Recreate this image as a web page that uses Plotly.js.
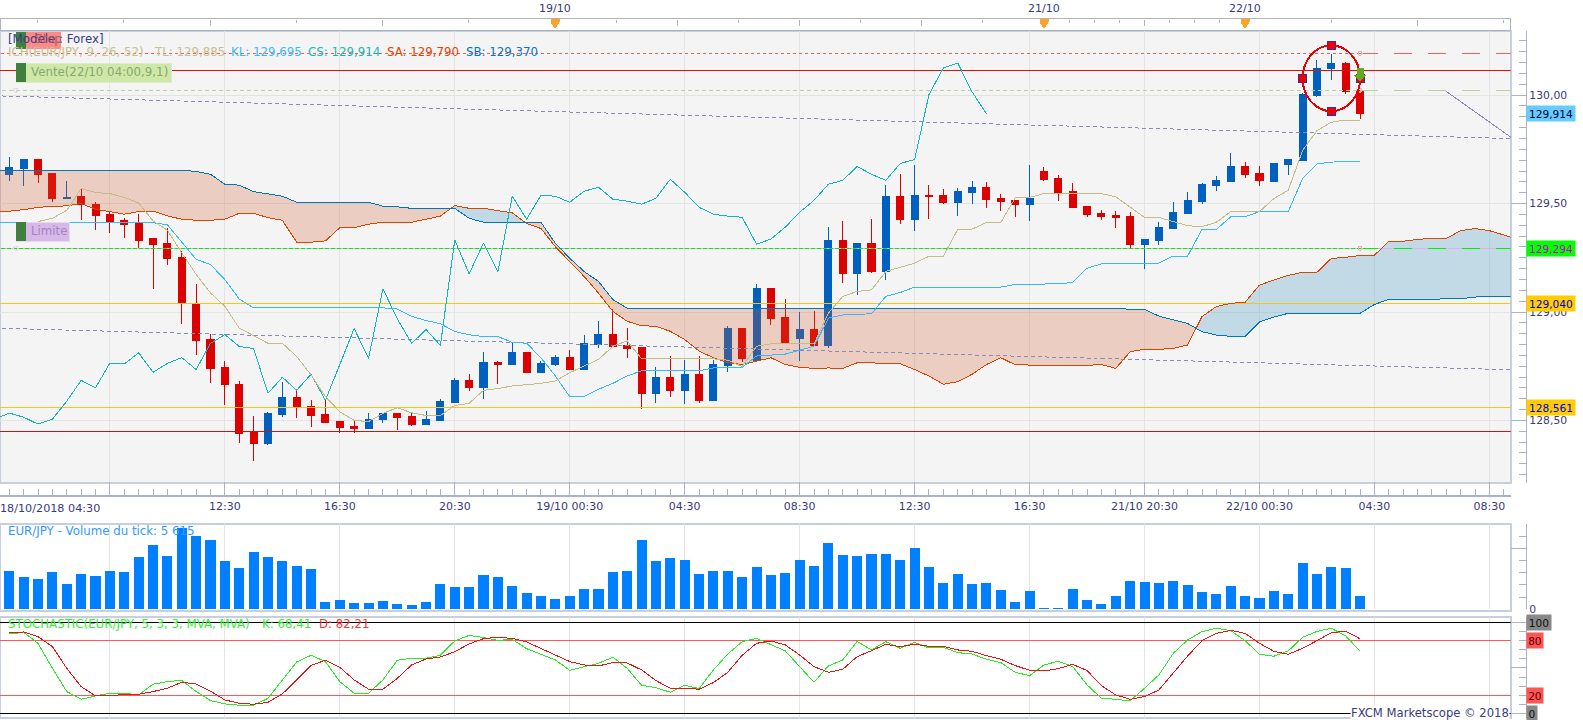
<!DOCTYPE html>
<html>
<head>
<meta charset="utf-8">
<script src="https://cdn.plot.ly/plotly-3.0.1.min.js"></script>
<style>
body{margin:0;background:#fff}
/* the original chart has no antialiasing on its lines */
#chart svg path{shape-rendering:crispEdges}
</style>
</head>
<body>
<div id="chart"></div>
<script>
// EUR/JPY 30 min, bars are numbered 0..94, x axis is the bar number (weekend gap is closed)
const opens = [129.634,129.662,129.702,129.637,129.522,129.531,129.498,129.448,129.42,129.406,129.337,129.314,129.252,129.039,128.872,128.742,128.668,128.448,128.395,128.529,128.608,128.566,128.529,128.497,128.474,128.465,128.506,128.534,128.52,128.483,128.5,128.583,128.685,128.65,128.765,128.76,128.813,128.722,128.758,128.79,128.735,128.85,128.896,128.846,128.836,128.625,128.699,128.639,128.713,128.593,128.754,128.924,128.777,129.107,128.974,128.878,128.919,128.846,129.332,129.176,129.318,129.185,129.534,129.428,129.538,129.538,129.506,129.552,129.575,129.524,129.515,129.497,129.648,129.616,129.557,129.488,129.456,129.446,129.442,129.313,129.332,129.387,129.456,129.511,129.584,129.602,129.671,129.639,129.602,129.68,129.699,129.997,130.121,130.148,130.02];
const highs = [129.715,129.702,129.706,129.642,129.605,129.569,129.505,129.463,129.432,129.451,129.337,129.386,129.282,129.131,128.9,128.775,128.682,128.52,128.539,128.677,128.64,128.594,128.594,128.497,128.503,128.534,128.534,128.534,128.534,128.543,128.599,128.694,128.715,128.816,128.775,128.858,128.813,128.772,128.8,128.823,128.896,128.96,129.015,128.928,128.836,128.745,128.795,128.777,128.795,128.781,128.937,128.928,129.13,129.107,129.061,129.002,129.006,129.391,129.419,129.318,129.428,129.584,129.635,129.676,129.584,129.566,129.57,129.602,129.598,129.543,129.515,129.676,129.667,129.63,129.593,129.488,129.469,129.465,129.46,129.336,129.414,129.506,129.552,129.593,129.625,129.731,129.69,129.671,129.685,129.703,130.01,130.162,130.19,130.153,130.02];
const lows = [129.605,129.583,129.597,129.509,129.522,129.425,129.378,129.365,129.342,129.291,129.108,129.215,128.946,128.802,128.674,128.571,128.395,128.312,128.386,128.515,128.511,128.469,128.488,128.441,128.441,128.46,128.488,128.458,128.474,128.478,128.5,128.58,128.636,128.599,128.668,128.76,128.717,128.717,128.749,128.735,128.735,128.832,128.841,128.786,128.552,128.58,128.607,128.575,128.58,128.593,128.722,128.768,128.777,128.942,128.855,128.772,128.846,128.836,129.135,129.08,129.18,129.148,129.405,129.373,129.428,129.497,129.442,129.497,129.479,129.465,129.437,129.419,129.602,129.511,129.479,129.437,129.424,129.387,129.295,129.199,129.309,129.387,129.456,129.497,129.557,129.602,129.616,129.58,129.598,129.63,129.694,129.992,130.07,130.006,129.891];
const closes = [129.665,129.702,129.634,129.522,129.529,129.495,129.443,129.414,129.402,129.332,129.309,129.247,129.043,128.869,128.739,128.664,128.441,128.395,128.534,128.608,128.56,128.525,128.492,128.469,128.465,128.506,128.534,128.515,128.483,128.506,128.589,128.685,128.65,128.765,128.76,128.812,128.722,128.763,128.79,128.735,128.855,128.896,128.841,128.832,128.625,128.699,128.639,128.713,128.593,128.758,128.924,128.786,129.107,128.969,128.855,128.919,128.846,129.332,129.176,129.318,129.185,129.534,129.428,129.538,129.534,129.506,129.557,129.575,129.52,129.511,129.497,129.524,129.612,129.552,129.483,129.451,129.442,129.437,129.313,129.336,129.391,129.46,129.515,129.589,129.607,129.671,129.635,129.607,129.685,129.703,130.002,130.125,130.148,130.015,129.914];

// these series start one bar before the left edge (bar -1)
const tenkan = [null,null,null,129.417,129.432,129.469,129.569,129.551,129.546,129.529,129.503,129.42,129.377,129.273,129.173,129.088,129.026,128.926,128.89,128.856,128.856,128.795,128.71,128.61,128.54,128.5,128.495,128.532,128.559,128.535,128.523,128.523,128.569,128.579,128.639,128.647,128.659,128.664,128.671,128.682,128.72,128.751,128.781,128.842,128.867,128.784,128.784,128.784,128.784,128.784,128.784,128.778,128.748,128.842,128.853,128.853,128.853,128.853,128.995,129.072,129.095,129.102,129.187,129.206,129.225,129.257,129.257,129.381,129.382,129.413,129.413,129.526,129.528,129.546,129.546,129.546,129.546,129.546,129.531,129.485,129.436,129.436,129.416,129.398,129.393,129.414,129.463,129.463,129.463,129.523,129.561,129.745,129.836,129.875,129.885,129.885];
const kijun = [129.412,129.412,129.412,129.412,129.412,129.412,129.412,129.412,129.412,129.412,129.412,129.412,129.402,129.32,129.243,129.219,129.15,129.06,129.019,129.019,129.019,129.019,129.019,129.019,129.019,129.019,129.019,129.019,129.014,128.98,128.961,128.946,128.91,128.895,128.887,128.887,128.86,128.856,128.789,128.705,128.61,128.61,128.644,128.671,128.705,128.729,128.729,128.729,128.729,128.729,128.742,128.745,128.745,128.797,128.803,128.806,128.824,128.842,128.972,128.986,128.989,128.992,129.072,129.09,129.115,129.115,129.115,129.115,129.115,129.115,129.115,129.127,129.128,129.128,129.13,129.136,129.202,129.222,129.225,129.225,129.225,129.225,129.258,129.258,129.381,129.381,129.439,129.439,129.463,129.463,129.463,129.615,129.683,129.691,129.695,129.695];
const chikou = [128.506,128.534,128.515,128.483,128.506,128.589,128.685,128.65,128.765,128.76,128.812,128.722,128.763,128.79,128.735,128.855,128.896,128.841,128.832,128.625,128.699,128.639,128.713,128.593,128.758,128.924,128.786,129.107,128.969,128.855,128.919,128.846,129.332,129.176,129.318,129.185,129.534,129.428,129.538,129.534,129.506,129.557,129.575,129.52,129.511,129.497,129.524,129.612,129.552,129.483,129.451,129.442,129.437,129.313,129.336,129.391,129.46,129.515,129.589,129.607,129.671,129.635,129.607,129.685,129.703,130.002,130.125,130.148,130.015,129.914];
const senkouA = [129.462,129.465,129.472,129.482,129.488,129.489,129.5,129.474,129.463,129.451,129.463,129.465,129.443,129.428,129.423,129.423,129.428,129.455,129.455,129.435,129.423,129.322,129.322,129.328,129.389,129.389,129.405,129.414,129.414,129.414,129.428,129.442,129.491,129.478,129.478,129.469,129.457,129.408,129.385,129.301,129.232,129.164,129.087,129.003,128.957,128.937,128.934,128.911,128.873,128.82,128.789,128.766,128.758,128.774,128.789,128.758,128.745,128.74,128.742,128.74,128.766,128.766,128.761,128.761,128.735,128.705,128.667,128.679,128.713,128.758,128.789,128.757,128.754,128.754,128.754,128.754,128.754,128.758,128.74,128.817,128.828,128.828,128.832,128.848,128.979,129.025,129.04,129.045,129.124,129.147,129.169,129.183,129.183,129.247,129.252,129.261,129.262,129.326,129.326,129.335,129.339,129.339,129.375,129.385,129.375,129.355,129.335];
const senkouB = [129.654,129.654,129.654,129.654,129.654,129.654,129.654,129.654,129.654,129.654,129.654,129.654,129.654,129.654,129.648,129.635,129.589,129.585,129.555,129.546,129.534,129.506,129.506,129.506,129.506,129.506,129.506,129.488,129.485,129.478,129.478,129.478,129.478,129.432,129.414,129.414,129.414,129.413,129.413,129.317,129.248,129.187,129.141,129.057,129.018,129.018,129.018,129.018,129.018,129.018,129.018,129.018,129.018,129.018,129.018,129.018,129.018,129.018,129.018,129.018,129.018,129.018,129.018,129.018,129.018,129.018,129.018,129.018,129.018,129.018,129.018,129.018,129.018,129.018,129.018,129.018,129.018,129.018,129.018,129.012,129.012,128.981,128.963,128.947,128.909,128.894,128.888,128.888,128.954,128.977,128.994,128.994,128.994,128.994,128.994,128.994,129.035,129.058,129.058,129.058,129.058,129.058,129.061,129.069,129.072,129.072,129.072];

const volumes = [15755,13289,12467,15344,10412,14522,13700,15755,15344,21509,26441,21920,33428,30140,28496,19865,16988,23564,21509,19865,17810,16577,3014,3836,2603,2603,3425,2192,1781,3014,10412,9179,9179,14111,13289,9590,6713,5480,4247,5480,8357,8357,15344,15755,28496,19865,21098,20276,14522,15755,15755,13289,17399,14111,14933,20276,17810,27263,22331,21920,22742,22742,20276,25208,17399,10823,14522,10412,10823,7946,3014,7535,548,411,8357,3836,2192,5480,11645,11234,10823,11645,10001,7124,6302,9590,5480,4658,7535,6302,19043,14522,17399,16988,5615];

const stochK = [87.5,89.3,77.2,49.6,23.9,15.4,19.1,22.1,22.1,20.2,32,34.9,36.4,23.9,14,10.3,8.8,8.8,16.5,36.8,56.6,64,57,34.9,22.1,22.1,36.8,58.5,60.7,60.7,64,79.8,86,83.5,80.5,81.6,71.3,65.1,58.8,47.4,51.5,55.1,61.8,49.6,30.9,28.3,23.2,30.9,27.2,47.8,65.4,79,82.7,75.4,68.8,51.5,34.2,52.2,58.8,79.4,69.9,79,71.7,78.3,72.1,72.8,66.9,65.4,59.6,55.9,45.2,41.5,53.3,57.4,51.5,31.3,16.5,15.4,13.6,27.6,42.3,66.2,80.9,90.1,93.8,91.2,80.1,65.1,62.9,68.8,83.8,90.4,93.8,85.3,68.41];
const stochD = [89,89.7,84.6,73.5,49.6,29.4,19.1,19.1,21,21,23.9,27.6,34.2,32.4,24.3,14.7,11,9.9,12.1,21.3,36.8,52.9,58.5,50.7,36.8,26.5,26.5,38.6,53.3,59.9,62.1,68,76.5,82.4,83.8,82.7,78.7,71.7,64.3,57,53.3,52.2,55.9,55.5,47.8,36,27.6,27.6,26.5,33.8,45.2,64,77.2,79.8,75.4,64.3,51.5,45.2,48.5,62.5,69.1,76.1,73.5,76.1,73.9,73.9,69.9,68.4,63.6,59.6,52.6,47.4,46.7,49.3,54,47.1,30.5,20.2,15.4,18.4,25.7,44.1,63.2,80.1,88.2,91.5,88.2,77.2,68.4,65.1,71.7,80.1,89,90.4,82.21];

const axisTickBars = [7,15,23,31,39,47,55,63,71,79,87,95,103];
const axisTickLabels = ["","12:30","16:30","20:30","19/10 00:30","04:30","08:30","12:30","16:30","21/10 20:30","22/10 00:30","04:30","08:30"];

const stopPrice = 130.193, sellPrice = 130.115, ventePrice = 130.023, limitPrice = 129.294;
const goldHigh = 129.04, goldLow = 128.561, redLow = 128.45;
const orderBar = 94;
const handleBars = [90,92,92,94], handlePrices = [130.077,130.229,129.926,130.077];

// top time strip, positions on the strip in px
const topLong = [210,382,677,799,921,1044,1144,1245,1417];
const topShort = [37,123,296,468,555,616,738,860,982,1069,1094,1119,1169,1194,1219,1331,1503];
const topDays = [[555,"19/10"],[1044,"21/10"],[1245,"22/10"]];

const W = 1583, H = 720;
const paneRight = 1510.7, axisX = 1525.7;
const barX0 = 9.3, barStep = 14.37;
const xRange = [-barX0/barStep, (paneRight-barX0)/barStep];
const fx = p => p/W, fy = p => 1-p/H;
const dom = (t,b) => [fy(b),fy(t)];
const range = (from,n) => Array.from({length:n},(_,k)=>from+k);

const INK = "#3a3a7a", FONT = "DejaVu Sans, Verdana, sans-serif";

function hline(y, color, dash, from, to, xa, ya, width){
    return {x:[from,to], y:[y,y], xaxis:xa||"x", yaxis:ya||"y", mode:"lines", hoverinfo:"skip",
        line:{color:color, width:width||1, dash:dash||"solid"}};
}

// cloud polygons, one per stretch between crossings of the two spans
function cloudTraces(){
    let out = [], xs = [], ya = [], yb = [];
    const n = senkouA.length;
    const flush = up => {
        if (xs.length < 2) return;
        out.push({x:xs.concat(xs.slice().reverse()), y:ya.concat(yb.slice().reverse()),
            mode:"lines", fill:"toself", line:{width:0}, hoverinfo:"skip",
            fillcolor: up ? "rgba(44,136,188,.25)" : "rgba(212,88,44,.25)"});
    };
    for (let k=0;k<n;k++){
        const x = k-1, d = senkouA[k]-senkouB[k];
        if (k>0){
            const dPrev = senkouA[k-1]-senkouB[k-1];
            if (dPrev*d < 0){
                const t = dPrev/(dPrev-d);
                const cx = x-1+t, cy = senkouA[k-1]+t*(senkouA[k]-senkouA[k-1]);
                xs.push(cx); ya.push(cy); yb.push(cy);
                flush(dPrev>0);
                xs=[cx]; ya=[cy]; yb=[cy];
            }
        }
        xs.push(x); ya.push(senkouA[k]); yb.push(senkouB[k]);
    }
    flush(senkouA[n-1]>senkouB[n-1]);
    return out;
}

const bars = range(0,95);
const priceLine = (name,ys,color) => ({name, x:range(-1,ys.length), y:ys, mode:"lines", hoverinfo:"skip", line:{color, width:1}});

let traces = [
    {type:"candlestick", x:bars, open:opens, high:highs, low:lows, close:closes, whiskerwidth:0, hoverinfo:"skip",
        increasing:{line:{color:"#0060c0",width:1},fillcolor:"#0060c0"},
        decreasing:{line:{color:"#dd0000",width:1},fillcolor:"#dd0000"}},
    ...cloudTraces(),
    hline(sellPrice,"#dd1111",null,-1,106),
    hline(stopPrice,"#ff5a5a","3px,3px",-1,orderBar),
    hline(stopPrice,"#ff5a5a","18px,16px",orderBar,106),
    hline(ventePrice,"#b8d2a4","4px,3px",-1,orderBar),
    hline(ventePrice,"#b8d2a4","18px,16px",orderBar,106),
    hline(limitPrice,"#e0b0ee",null,-1,106),
    hline(limitPrice,"#00f000","4px,2px",-1,orderBar),
    hline(limitPrice,"#00f000","18px,16px",orderBar,106),
    hline(goldHigh,"#f5c518",null,-1,106), hline(goldLow,"#f5c518",null,-1,106), hline(redLow,"#cc1111",null,-1,106),
    {x:[-1,106], y:[129.997,129.797], mode:"lines", hoverinfo:"skip", line:{color:"#8a8aba",width:1,dash:"4px,3px"}},
    {x:[-1,106], y:[128.926,128.731], mode:"lines", hoverinfo:"skip", line:{color:"#8a8aba",width:1,dash:"4px,3px"}},
    {x:[100,106], y:[130.017,129.735], mode:"lines", hoverinfo:"skip", line:{color:"#8a8aba",width:1}},
    priceLine("SA",senkouA,"#dd4400"),
    priceLine("SB",senkouB,"#0077bb"),
    priceLine("CS",chikou,"#11b8b8"),
    priceLine("KL",kijun,"#33bbff"),
    priceLine("TL",tenkan,"#c4bc84"),
    {x:[orderBar,orderBar,orderBar], y:[stopPrice,ventePrice,limitPrice], mode:"markers", hoverinfo:"skip",
        marker:{symbol:"circle-open",size:4,color:"#e8b0b0",line:{width:1}}},
    {x:[0.45,0.45], y:[ventePrice,limitPrice], mode:"markers", hoverinfo:"skip",
        marker:{symbol:"circle-open",size:4,color:"#e0d8e8",line:{width:1}}},
    {x:handleBars, y:handlePrices, mode:"markers", hoverinfo:"skip",
        marker:{symbol:"square",size:8,color:"#ee0011",line:{color:"#333388",width:1}}},
    // volume pane
    {type:"bar", x:bars, y:volumes, width:0.7, xaxis:"x2", yaxis:"y2", hoverinfo:"skip", marker:{color:"#0080ff"}},
    // stochastic pane
    hline(100,"#000000",null,-1,106,"x3","y3"),
    hline(0,"#000000",null,-1,106,"x3","y3"),
    hline(80,"#ff5555",null,-1,106,"x3","y3"),
    hline(20,"#ff5555",null,-1,106,"x3","y3"),
    {x:bars, y:stochK, xaxis:"x3", yaxis:"y3", mode:"lines", hoverinfo:"skip", line:{color:"#22ee22",width:1}},
    {x:bars, y:stochD, xaxis:"x3", yaxis:"y3", mode:"lines", hoverinfo:"skip", line:{color:"#ee1111",width:1}},
    // only here so that the top strip axis gets drawn
    {x:[0], y:[130], xaxis:"x4", yaxis:"y", mode:"none", hoverinfo:"skip"}
];

function txt(x,y,text,color,size,extra){
    return Object.assign({xref:"paper",yref:"paper",x:fx(x-2.5),y:fy(y),text,showarrow:false,xanchor:"left",yanchor:"middle",
        font:{family:FONT,size:size||11.8,color:color||INK}},extra||{});
}
function tag(ya,y,text,bg,color,w){
    return {xref:"paper",yref:ya,x:fx(1526),y,text,showarrow:false,xanchor:"left",yanchor:"middle",
        bgcolor:bg,width:w,height:15,borderpad:0,align:"center",font:{family:FONT,size:10.6,color}};
}

const annotations = [
    txt(8.5,39,"[Modele : Forex]","#3a3a8a"),
    txt(35,39,"Stop","#a86060"),
    txt(8.5,52,"ICH(EUR/JPY, 9, 26, 52)","#c8c090"),
    txt(154.5,52,"TL: 129,885","#c8c090"),
    txt(231,52,"KL: 129,695","#33bbff"),
    txt(308,52,"CS: 129,914","#11b8b8"),
    txt(387,52,"SA: 129,790","#dd4400"),
    txt(467,52,"SB: 129,370","#0077bb"),
    txt(31,72.5,"Vente(22/10 04:00,9,1)","#86a676"),
    txt(31,231,"Limite","#a684c4"),
    txt(0,508,"18/10/2018 04:30",INK,11.2),
    txt(8.5,531,"EUR/JPY - Volume du tick: 5 615","#3399ff"),
    txt(8.5,624,"STOCHASTIC(EUR/JPY, 5, 3, 3, MVA, MVA)","#33ee33"),
    txt(262,624,"K: 68,41","#33ee33"),
    txt(319.5,624,"D: 82,21","#ff3333"),
    Object.assign(txt(1510,713,"FXCM Marketscope \u00a9 2018",INK,11.6),{x:fx(1510),xanchor:"right",bgcolor:"#ffffff",borderpad:0}),
    tag("y",129.914,"129,914","#66ccff","#000033",48),
    tag("y",limitPrice,"129,294","#00ff00","#cc00cc",48),
    tag("y",goldHigh,"129,040","#ffcc00","#0000dd",48),
    tag("y",goldLow,"128,561","#ffcc00","#0000dd",48),
    tag("y3",100,"100","#888888","#111111",24),
    tag("y3",80,"80","#ff5555","#550000",16),
    tag("y3",20,"20","#ff5555","#550000",16),
    tag("y3",0,"0","#888888","#111111",10),
    ...topDays.map(d => Object.assign(txt(d[0],9,d[1],INK,11),{x:fx(d[0]),xanchor:"center"}))
];

const pxRect = (x0,y0,x1,y1,fill,line,layer,lw) => ({type:"rect",xref:"paper",yref:"paper",x0:fx(x0),x1:fx(x1),y0:fy(y0),y1:fy(y1),
    fillcolor:fill,line:{color:line||fill,width:line?(lw||1):0},layer:layer||"above"});
const pxPath = (pts,fill,line) => ({type:"path",xref:"paper",yref:"paper",fillcolor:fill,line:{color:line||fill,width:line?1:0},layer:"above",
    path:"M"+pts.map(p=>fx(p[0])+" "+fy(p[1])).join("L")+"Z"});

const frame = "#c6cfdb";
const shapes = [
    pxRect(0,30.7,paneRight,482.7,"#f4f4f4",frame,"below",2),
    pxRect(0,524,paneRight,610.5,"#ffffff",frame,"below",2),
    pxRect(0,616.7,paneRight,718.3,"#ffffff",frame,"below",2),
    pxRect(0,18.7,paneRight,30.7,"#ffffff","#aab3c0","below",1),
    // order tags
    pxRect(16,32,61,49,"#ff8888"),
    pxRect(16,32,26,49,"#3f803f"),
    pxRect(16,63,171,82,"#cfe8a6","#dfe8d0"),
    pxRect(16,63,26,82,"#3f803f"),
    pxRect(16,222,69,241,"#d8b8e8","#e4dcec"),
    pxRect(16,222,26,241,"#3f803f"),
    // day markers on the top strip
    ...topDays.map(d => pxPath([[d[0]-4.5,19],[d[0]+4.5,19],[d[0]+4.5,22],[d[0],29],[d[0]-4.5,22]],"#ffa326")),
    // pattern ellipse
    {type:"circle",xref:"x",yref:"y",x0:handleBars[0],x1:handleBars[3],y0:handlePrices[2],y1:handlePrices[1],line:{color:"#ee0000",width:2}},
    // sell arrow
    pxPath([[1356.5,67.5],[1363.5,67.5],[1363.5,75],[1366.5,75],[1360,82],[1353.5,75],[1356.5,75]],"#66a81e")
];

const xBase = {domain:[0,fx(paneRight)], range:xRange, showgrid:true, gridcolor:"#e4e4e4", gridwidth:1, zeroline:false,
    tickmode:"array", tickvals:axisTickBars};
const yTick = {anchor:"free", position:fx(axisX), side:"right", zeroline:false, showline:true, linecolor:"#a9b3c3", linewidth:1.5,
    ticks:"inside", ticklen:15, tickcolor:"#a9b3c3", tickfont:{family:FONT,size:10.8,color:INK}};

const layout = {
    width:W, height:H, autosize:false, margin:{l:0,r:0,t:0,b:0}, showlegend:false,
    paper_bgcolor:"#ffffff", plot_bgcolor:"rgba(0,0,0,0)", separators:", ", boxmode:"overlay",
    xaxis:{...xBase, anchor:"free", position:fy(495.3), side:"bottom", rangeslider:{visible:false},
        showline:true, linecolor:"#a9b3c3", linewidth:1.5, ticks:"inside", ticklen:13, tickcolor:"#a9b3c3",
        ticktext:axisTickLabels, tickangle:0, tickfont:{family:FONT,size:11,color:INK},
        minor:{tickmode:"linear",tick0:0,dtick:1,ticks:"inside",ticklen:6,tickcolor:"#a9b3c3",showgrid:false}},
    xaxis2:{...xBase, anchor:"y2", showticklabels:false, ticks:""},
    xaxis3:{...xBase, anchor:"y3", showticklabels:false, ticks:""},
    xaxis4:{domain:[0,fx(paneRight)], range:[0,paneRight], overlaying:"x", anchor:"free", position:fy(18.7), side:"top",
        showgrid:false, zeroline:false, showticklabels:false, tickmode:"array", tickvals:topLong,
        ticks:"inside", ticklen:6, tickcolor:"#a9b3c3",
        minor:{tickmode:"array",tickvals:topShort,ticks:"inside",ticklen:3,tickcolor:"#a9b3c3",showgrid:false}},
    yaxis:{...yTick, domain:dom(30.7,482.7), range:[128.213,130.297], tick0:128, dtick:0.5, tickformat:".2f",
        showgrid:true, gridcolor:"#e4e4e4",
        minor:{tick0:128,dtick:0.05,ticks:"inside",ticklen:7,tickcolor:"#a9b3c3",showgrid:false}},
    yaxis2:{...yTick, domain:dom(524,609.3), range:[0,35000], showgrid:false, tickmode:"array", tickvals:[0,25000], ticktext:["0",""],
        minor:{tickmode:"array",tickvals:[5000,10000,15000,20000,30000,35000],ticks:"inside",ticklen:7,tickcolor:"#a9b3c3",showgrid:false}},
    yaxis3:{...yTick, domain:dom(616.7,718.3), range:[-5.6,106.6], showgrid:false, showticklabels:false, tickmode:"array", tickvals:[0,50,100],
        minor:{tickmode:"linear",tick0:0,dtick:10,ticks:"inside",ticklen:7,tickcolor:"#a9b3c3",showgrid:false}},
    annotations, shapes
};

Plotly.newPlot("chart", traces, layout, {staticPlot:true, displayModeBar:false});
</script>
</body>
</html>
